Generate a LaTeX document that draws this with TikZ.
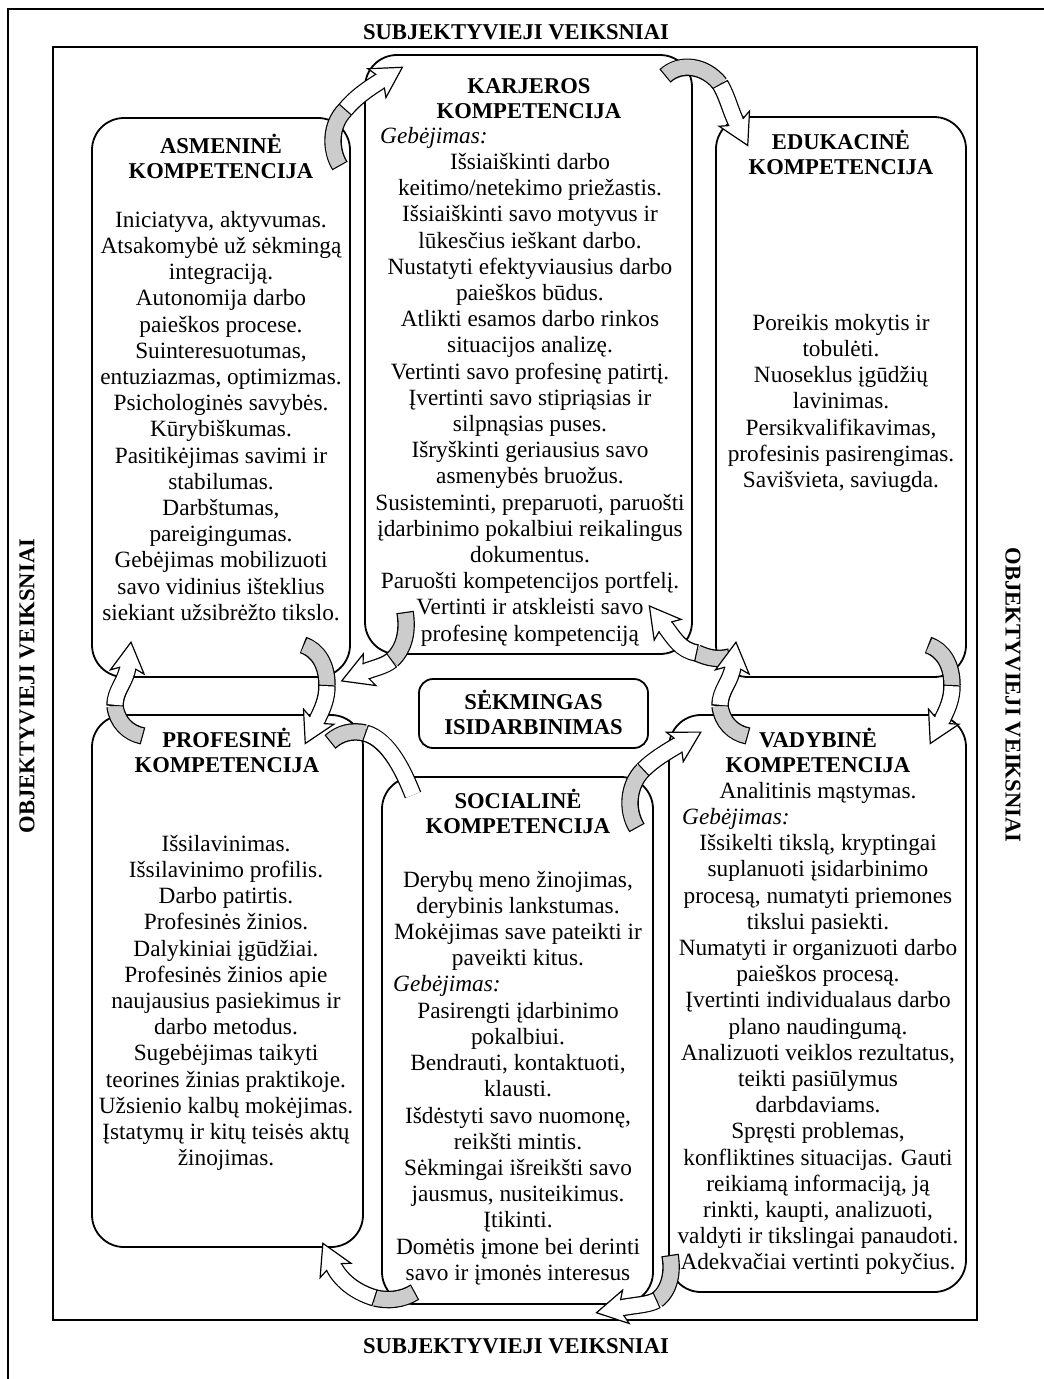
\documentclass[tikz,border=0pt]{standalone}
\usepackage{fontspec}
\setmainfont{Liberation Serif}
\usetikzlibrary{decorations.markings}
\definecolor{tailgray}{RGB}{204,204,204}
\newcommand\bodyf{\fontsize{23.3}{26.2}\selectfont}
\newcommand\headf{\fontsize{22.6}{25.5}\selectfont\bfseries}
\newcommand\sk{\rule{0pt}{24pt}}
\newcommand\carrow[7]{%
  \draw[line width=17.5pt] (#1) .. controls (#2) and (#3) .. (#4);
  \draw[line width=15pt, draw=tailgray, shorten <=1.2pt] (#1) .. controls (#2) and (#3) .. (#4);
  \draw[line width=17.5pt] (#4) .. controls (#5) and (#6) .. (#7);
  \draw[line width=15pt, draw=white, shorten <=1.2pt] (#4) .. controls (#5) and (#6) .. (#7);
  \path[decorate, decoration={markings, mark=at position 1 with {\filldraw[fill=white, draw=black, line width=1.2pt, line join=miter] (-2,-7.5) -- (-6,-17) -- (24,0) -- (-6,17) -- (-2,7.5);}}] (#4) .. controls (#5) and (#6) .. (#7);
}
\begin{document}
\begin{tikzpicture}[x=1pt,y=-1pt,
  cbox/.style={draw, line width=1.8pt, rounded corners=32pt, inner sep=0pt},
  head/.style={font=\headf, align=center, inner sep=0pt, anchor=north},
  body/.style={font=\bodyf, align=center, inner sep=0pt, anchor=north},
  geb/.style={font=\bodyf\itshape, inner sep=0pt, anchor=base west},
  title/.style={font=\headf, inner sep=0pt}]
\useasboundingbox (0,0) rectangle (1044,1379);
% outer frame
\draw[line width=2pt] (8,1379) -- (8,9) -- (1044,9);
% inner frame
\node[draw, line width=2.3pt, minimum width=924pt, minimum height=1273pt, inner sep=0pt] (frame) at (515,683.5) {};
% boxes
\node[cbox, minimum width=258pt, minimum height=559pt] (asm) at (221,397.5) {};
\node[cbox, minimum width=327pt, minimum height=599pt] (kar) at (528.5,354.5) {};
\node[cbox, minimum width=250pt, minimum height=560pt] (edu) at (841,397) {};
\node[cbox, minimum width=271pt, minimum height=532pt] (pro) at (227.5,981) {};
\node[cbox, minimum width=271pt, minimum height=527pt] (soc) at (517.5,1040.5) {};
\node[cbox, minimum width=297pt, minimum height=577pt] (vad) at (817.5,1003.5) {};
\node[draw, line width=1.8pt, rounded corners=14pt, inner sep=0pt, minimum width=229pt, minimum height=69pt] (sek) at (533.5,713.5) {};
% arrow coordinates
\coordinate (a1t) at (340,166); \coordinate (a1j) at (345,110); \coordinate (a1e) at (382,80);
\coordinate (a2t) at (665,76); \coordinate (a2j) at (720,84); \coordinate (a2e) at (737,124);
\coordinate (a3t) at (143,736); \coordinate (a3j) at (115,706); \coordinate (a3e) at (128,666);
\coordinate (a4t) at (303,645); \coordinate (a4j) at (327,685); \coordinate (a4e) at (316,722);
\coordinate (a5t) at (405,612); \coordinate (a5j) at (392,660); \coordinate (a5e) at (364,672);
\coordinate (a6t) at (730,657); \coordinate (a6j) at (697,653); \coordinate (a6e) at (664,625);
\coordinate (a7t) at (748,736); \coordinate (a7j) at (720,706); \coordinate (a7e) at (733,666);
\coordinate (a8t) at (928,645); \coordinate (a8j) at (952,685); \coordinate (a8e) at (941,722);
\coordinate (a9t) at (637,828); \coordinate (a9j) at (643,770); \coordinate (a9e) at (680,744);
\coordinate (a10t) at (330,742); \coordinate (a10j) at (365,733); \coordinate (a10e) at (413,795);
\coordinate (a11t) at (415,1292); \coordinate (a11j) at (375,1298); \coordinate (a11e) at (333,1265);
\coordinate (a12t) at (670,1255); \coordinate (a12j) at (657,1300); \coordinate (a12e) at (620,1308);
% arrows
\carrow{a1t}{330,150}{330,125}{a1j}{355,98}{366,90}{a1e}
\carrow{a2t}{680,62}{705,65}{a2j}{728,98}{730,110}{a2e}
\carrow{a3t}{128,733}{117,722}{a3j}{115,690}{126,682}{a3e}
\carrow{a4t}{318,650}{327,665}{a4j}{327,700}{322,710}{a4e}
\carrow{a5t}{408,630}{405,648}{a5j}{385,666}{374,668}{a5e}
\carrow{a6t}{718,660}{708,658}{a6j}{680,650}{674,638}{a6e}
\carrow{a7t}{733,733}{722,722}{a7j}{720,690}{731,682}{a7e}
\carrow{a8t}{943,650}{952,665}{a8j}{952,700}{947,710}{a8e}
\carrow{a9t}{626,810}{628,785}{a9j}{653,760}{666,752}{a9e}
\carrow{a10t}{340,733}{352,730}{a10j}{390,740}{405,775}{a10e}
\carrow{a11t}{402,1300}{388,1301}{a11j}{355,1292}{340,1280}{a11e}
\carrow{a12t}{673,1272}{670,1290}{a12j}{648,1305}{635,1305}{a12e}
% titles
\node[title, anchor=base] (topt) at (516,39) {SUBJEKTYVIEJI VEIKSNIAI};
\node[title, anchor=base] (bott) at (516,1353) {SUBJEKTYVIEJI VEIKSNIAI};
\node[title, rotate=90] (objl) at (27,686) {OBJEKTYVIEJI VEIKSNIAI};
\node[title, rotate=-90] (objr) at (1013,695) {OBJEKTYVIEJI VEIKSNIAI};
% Asmenine
\node[head] (asmh) at (221,129) {\sk ASMENINĖ\\KOMPETENCIJA};
\node[body] (asmb) at (221,203) {\sk Iniciatyva, aktyvumas.\\Atsakomybė už sėkmingą\\integraciją.\\Autonomija darbo\\paieškos procese.\\Suinteresuotumas,\\entuziazmas, optimizmas.\\Psichologinės savybės.\\Kūrybiškumas.\\Pasitikėjimas savimi ir\\stabilumas.\\Darbštumas,\\pareigingumas.\\Gebėjimas mobilizuoti\\savo vidinius išteklius\\siekiant užsibrėžto tikslo.};
% Karjeros
\node[head] (karh) at (529,69) {\sk KARJEROS\\KOMPETENCIJA};
\node[geb] (karg) at (380,143) {Gebėjimas:};
\node[body] (karb) at (530,145.3) {\sk Išsiaiškinti darbo\\keitimo/netekimo priežastis.\\Išsiaiškinti savo motyvus ir\\lūkesčius ieškant darbo.\\Nustatyti efektyviausius darbo\\paieškos būdus.\\Atlikti esamos darbo rinkos\\situacijos analizę.\\Vertinti savo profesinę patirtį.\\Įvertinti savo stipriąsias ir\\silpnąsias puses.\\Išryškinti geriausius savo\\asmenybės bruožus.\\Susisteminti, preparuoti, paruošti\\įdarbinimo pokalbiui reikalingus\\dokumentus.\\Paruošti kompetencijos portfelį.\\Vertinti ir atskleisti savo\\profesinę kompetenciją};
% Edukacine
\node[head] (eduh) at (841,125) {\sk EDUKACINĖ\\KOMPETENCIJA};
\node[body] (edub) at (841,306) {\sk Poreikis mokytis ir\\tobulėti.\\Nuoseklus įgūdžių\\lavinimas.\\Persikvalifikavimas,\\profesinis pasirengimas.\\Savišvieta, saviugda.};
% Sekmingas
\node[head] (sekt) at (533.5,685) {\sk SĖKMINGAS\\ISIDARBINIMAS};
% Profesine
\node[head] (proh) at (227,723) {\sk PROFESINĖ\\KOMPETENCIJA};
\node[body] (prob) at (226,827) {\sk Išsilavinimas.\\Išsilavinimo profilis.\\Darbo patirtis.\\Profesinės žinios.\\Dalykiniai įgūdžiai.\\Profesinės žinios apie\\naujausius pasiekimus ir\\darbo metodus.\\Sugebėjimas taikyti\\teorines žinias praktikoje.\\Užsienio kalbų mokėjimas.\\Įstatymų ir kitų teisės aktų\\žinojimas.};
% Socialine
\node[head] (soch) at (518,784) {\sk SOCIALINĖ\\KOMPETENCIJA};
\node[body] (socb) at (518,863) {\sk Derybų meno žinojimas,\\derybinis lankstumas.\\Mokėjimas save pateikti ir\\paveikti kitus.};
\node[geb] (socg) at (393,991.8) {Gebėjimas:};
\node[body] (socc) at (518,994) {\sk Pasirengti įdarbinimo\\pokalbiui.\\Bendrauti, kontaktuoti,\\klausti.\\Išdėstyti savo nuomonę,\\reikšti mintis.\\Sėkmingai išreikšti savo\\jausmus, nusiteikimus.\\Įtikinti.\\Domėtis įmone bei derinti\\savo ir įmonės interesus};
% Vadybine
\node[head] (vadh) at (818,723) {\sk VADYBINĖ\\KOMPETENCIJA};
\node[font=\bodyf, inner sep=0pt, anchor=base] (vada) at (818,798) {Analitinis mąstymas.};
\node[geb] (vadg) at (682,824.2) {Gebėjimas:};
\node[body] (vadb) at (818,826.4) {\sk Išsikelti tikslą, kryptingai\\suplanuoti įsidarbinimo\\procesą, numatyti priemones\\tikslui pasiekti.\\Numatyti ir organizuoti darbo\\paieškos procesą.\\Įvertinti individualaus darbo\\plano naudingumą.\\Analizuoti veiklos rezultatus,\\teikti pasiūlymus\\darbdaviams.\\Spręsti problemas,\\konfliktines situacijas. Gauti\\reikiamą informaciją, ją\\rinkti, kaupti, analizuoti,\\valdyti ir tikslingai panaudoti.\\Adekvačiai vertinti pokyčius.};
\end{tikzpicture}
\end{document}
